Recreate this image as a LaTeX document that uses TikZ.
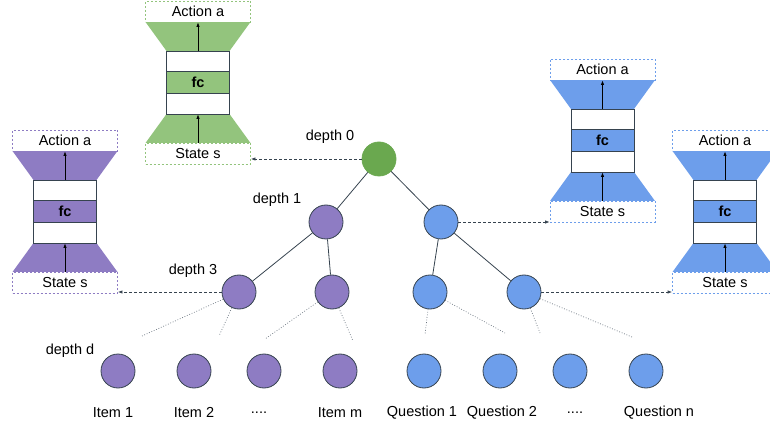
\documentclass[tikz,border=0pt]{standalone}
\usepackage{fontspec}
\setmainfont{Liberation Sans}
\usetikzlibrary{arrows.meta}

\definecolor{qgreen}{HTML}{93C47D}
\definecolor{rootgreen}{HTML}{6AA84F}
\definecolor{qpurple}{HTML}{8E7CC3}
\definecolor{qblue}{HTML}{6D9EEB}
\definecolor{edgegrey}{HTML}{36434F}
\definecolor{dotgrey}{HTML}{6B7580}

\tikzset{
  every node/.style={font=\fontsize{14.5}{17}\selectfont},
  treenode/.style={circle, draw=edgegrey, line width=0.8pt, minimum size=34pt, inner sep=0pt},
  ioBox/.style={draw=#1, dashed, dash pattern=on 2pt off 2pt, line width=0.8pt,
                fill=white, minimum width=105pt, minimum height=21pt, inner sep=0pt},
  layerbox/.style={draw=edgegrey, line width=0.8pt, fill=white,
                   minimum width=63pt, minimum height=21pt, inner sep=0pt},
  treeedge/.style={draw=edgegrey, line width=0.8pt},
  leafedge/.style={draw=dotgrey, line width=0.7pt, dash pattern=on 0.8pt off 1.8pt},
  linkarrow/.style={draw=edgegrey, line width=0.8pt, dashed, dash pattern=on 3pt off 2pt,
                    -{Latex[length=4.5pt,width=3.5pt]}},
  flowarrow/.style={draw=black, line width=0.8pt, -{Latex[length=4.5pt,width=3.5pt]}},
  lbl/.style={inner sep=0pt}
}

% Q-network: input box, widening trapezoids, three layers, output box
% #1 name, #2 centre x, #3 top y, #4 colour
\newcommand\qnetwork[4]{%
  \begin{scope}[shift={(#2,#3)}]
    \fill[#4] (-52.5,21) -- (52.5,21) -- (31.5,50) -- (-31.5,50) -- cycle;
    \fill[#4] (-31.5,113) -- (31.5,113) -- (52.5,142) -- (-52.5,142) -- cycle;
    \node[ioBox=#4] (#1-act) at (0,10.5) {Action a};
    \node[ioBox=#4] (#1-st) at (0,152.5) {State s};
    \node[layerbox] (#1-l1) at (0,60.5) {};
    \node[layerbox, fill=#4, minimum height=22pt] (#1-fc) at (0,81.5) {\bfseries fc};
    \node[layerbox] (#1-l2) at (0,102.5) {};
    \draw[flowarrow] (#1-l1.north) -- (#1-act.south);
    \draw[flowarrow] (#1-st.north) -- (#1-l2.south);
  \end{scope}%
}

\begin{document}
\begin{tikzpicture}[x=1pt, y=-1pt]
  \useasboundingbox (0,0) rectangle (770,427);
  \clip (0,0) rectangle (770,427);

  % networks attached to tree nodes
  \qnetwork{gnet}{198}{1}{qgreen}
  \qnetwork{pnet}{65}{130}{qpurple}
  \qnetwork{bnet}{602.5}{59}{qblue}
  \qnetwork{rnet}{725}{130}{qblue}

  % tree
  \node[treenode, draw=rootgreen, fill=rootgreen] (root) at (379,159) {};
  \node[treenode, fill=qpurple] (p1) at (326,222) {};
  \node[treenode, fill=qblue] (b1) at (441,222) {};
  \node[treenode, fill=qpurple] (p3a) at (239,292) {};
  \node[treenode, fill=qpurple] (p3b) at (332,292) {};
  \node[treenode, fill=qblue] (b3a) at (430,292) {};
  \node[treenode, fill=qblue] (b3b) at (524,292) {};

  \draw[treeedge] (root) -- (p1);
  \draw[treeedge] (root) -- (b1);
  \draw[treeedge] (p1) -- (p3a);
  \draw[treeedge] (p1) -- (p3b);
  \draw[treeedge] (b1) -- (b3a);
  \draw[treeedge] (b1) -- (b3b);

  % leaves
  \node[treenode, fill=qpurple] (i1) at (118,371) {};
  \node[treenode, fill=qpurple] (i2) at (194,371) {};
  \node[treenode, fill=qpurple] (i3) at (264,371) {};
  \node[treenode, fill=qpurple] (im) at (340,371) {};
  \node[treenode, fill=qblue] (q1) at (424,371) {};
  \node[treenode, fill=qblue] (q2) at (500,371) {};
  \node[treenode, fill=qblue] (q3) at (570,371) {};
  \node[treenode, fill=qblue] (qn) at (646,371) {};

  \node[lbl] (ti1) at (113,413) {Item 1};
  \node[lbl] (ti2) at (194,413) {Item 2};
  \node[lbl] (ti3) at (259,413) {....};
  \node[lbl] (tim) at (340,413) {Item m};
  \node[lbl] (tq1) at (422,413) {Question 1};
  \node[lbl] (tq2) at (502,413) {Question 2};
  \node[lbl] (tq3) at (575,413) {....};
  \node[lbl] (tqn) at (659,413) {Question n};

  % dotted continuations towards depth d
  \coordinate (d1) at (142,336);
  \coordinate (d2) at (219,336);
  \coordinate (d3) at (265,339);
  \coordinate (d4) at (353,341);
  \coordinate (d5) at (425,335);
  \coordinate (d6) at (505,333);
  \coordinate (d7) at (540,333);
  \coordinate (d8) at (632,337);
  \draw[leafedge] (p3a) -- (d1);
  \draw[leafedge] (p3a) -- (d2);
  \draw[leafedge] (p3b) -- (d3);
  \draw[leafedge] (p3b) -- (d4);
  \draw[leafedge] (b3a) -- (d5);
  \draw[leafedge] (b3a) -- (d6);
  \draw[leafedge] (b3b) -- (d7);
  \draw[leafedge] (b3b) -- (d8);

  % depth labels
  \node[lbl] (dep0) at (330,137) {depth 0};
  \node[lbl] (dep1) at (277,200) {depth 1};
  \node[lbl] (dep3) at (193,271) {depth 3};
  \node[lbl] (depd) at (70,351) {depth d};

  % links from tree nodes to their networks
  \draw[linkarrow] (root.west) -- (root.west -| gnet-st.east);
  \draw[linkarrow] (b1.east) -- (b1.east -| bnet-st.west);
  \draw[linkarrow] (p3a.west) -- (p3a.west -| pnet-st.east);
  \draw[linkarrow] (b3b.east) -- (b3b.east -| rnet-st.west);
\end{tikzpicture}
\end{document}
